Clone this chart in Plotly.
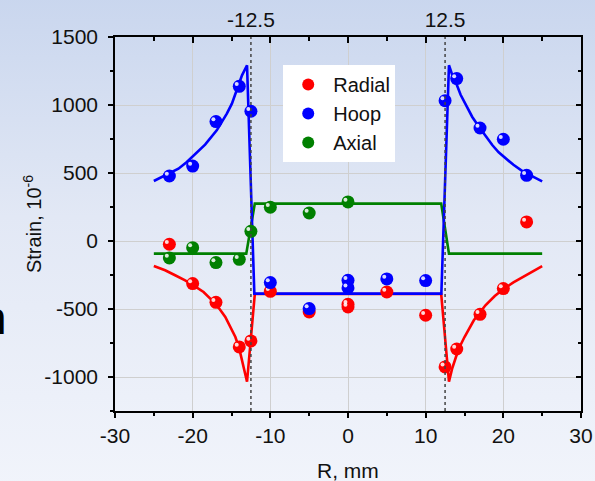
import base64
import plotly.graph_objects as go

# ---------------- data ----------------
radial_x = [-23, -20, -17, -14, -12.5, -10, -5, 0, 0, 5, 10, 12.5, 14, 17, 20, 23]
radial_y = [-24, -313, -451, -779, -735, -370, -522, -465, -485, -375, -546, -926, -794, -539, -350, 140]

hoop_x = [-23, -20, -17, -14, -12.5, -10, -5, 0, 0, 5, 10, 12.5, 14, 17, 20, 23]
hoop_y = [478, 551, 878, 1137, 954, -306, -497, -289, -345, -279, -291, 1032, 1194, 831, 748, 483]

axial_x = [-23, -20, -17, -14, -12.5, -10, -5, 0]
axial_y = [-125, -49, -159, -135, 71, 248, 206, 287]

# fitted curves
radial_fit_x = [-25.0, -23.55, -22.26, -20.97, -19.9, -18.6, -17.5, -16.58, -15.8, -15.12, -14.5,
                -14.0, -13.65, -13.3, -13.0, -12.0, 12.0, 13.0, 13.4, 13.9, 14.4, 15.0, 15.6,
                16.2, 17.0, 17.7, 18.9, 20.1, 21.3, 22.5, 23.8, 25.0]
radial_fit_y = [-184, -215, -252, -289, -326, -375, -436, -497, -559, -632, -706,
                -791, -877, -956, -1035, -390, -390, -1035, -940, -853, -775, -706, -640,
                -583, -525, -473, -405, -350, -305, -265, -222, -184]

hoop_fit_x = [-25.0, -23.55, -21.83, -20.75, -19.9, -18.4, -16.9, -15.6, -14.95, -14.5, -14.0,
              -13.65, -13.0, -12.06, 12.02, 13.0, 13.4, 13.87, 14.5, 15.16, 16.0, 16.88, 17.7,
              18.6, 19.4, 20.3, 21.3, 22.5, 23.7, 25.0]
hoop_fit_y = [441, 483, 532, 581, 625, 709, 814, 937, 1010, 1084, 1157,
              1218, 1292, -387, -387, 1292, 1225, 1169, 1075, 998, 912, 838, 770,
              704, 652, 606, 560, 512, 474, 439]

axial_fit_x = [-25.0, -13.1, -12.0, 12.0, 13.0, 25.0]
axial_fit_y = [-93, -93, 275, 275, -93, -93]

ref_lines = [-12.5, 12.5]
ref_labels = ["-12.5", "12.5"]

x_ticks = [-30, -20, -10, 0, 10, 20, 30]
x_ticklabels = ["-30", "-20", "-10", "0", "10", "20", "30"]
y_ticks = [-1000, -500, 0, 500, 1000, 1500]
y_ticklabels = ["-1000", "-500", "0", "500", "1000", "1500"]

x_title = "R, mm"
y_title = "Strain, 10<sup>-6</sup>"

series_names = ["Radial", "Hoop", "Axial"]
series_colors = ["#ff0000", "#0000ff", "#008000"]

# ---------------- figure ----------------
FONT = "Arial, Liberation Sans, sans-serif"
FS = 21
fig = go.Figure()

fits = [(radial_fit_x, radial_fit_y), (axial_fit_x, axial_fit_y), (hoop_fit_x, hoop_fit_y)]
fit_colors = [series_colors[0], series_colors[2], series_colors[1]]
for (fx, fy), c in zip(fits, fit_colors):
    fig.add_trace(go.Scatter(x=fx, y=fy, mode="lines", line=dict(color=c, width=2.6),
                             showlegend=False, hoverinfo="skip"))

pts = [(radial_x, radial_y), (hoop_x, hoop_y), (axial_x, axial_y)]
dx, dy = -0.33, 17  # highlight offset of the glossy spheres
for (px, py), name, c in zip(pts, series_names, series_colors):
    fig.add_trace(go.Scatter(x=px, y=py, mode="markers", name=name,
                             marker=dict(color=c, size=13, line=dict(width=0))))
    fig.add_trace(go.Scatter(x=[v + dx for v in px], y=[v + dy for v in py], mode="markers",
                             marker=dict(color="rgba(255,255,255,0.85)", size=4, line=dict(width=0)),
                             showlegend=False, hoverinfo="skip"))

# empty traces to bind the mirror axes
fig.add_trace(go.Scatter(x=[], y=[], xaxis="x2", showlegend=False))
fig.add_trace(go.Scatter(x=[], y=[], xaxis="x3", showlegend=False))
fig.add_trace(go.Scatter(x=[], y=[], yaxis="y2", showlegend=False))

for v in ref_lines:
    fig.add_shape(type="line", xref="x", yref="paper", x0=v, x1=v, y0=0, y1=1,
                  line=dict(color="#444444", width=1.5, dash="3px,3px"), layer="above")

svg = ("<svg xmlns='http://www.w3.org/2000/svg' width='10' height='100' preserveAspectRatio='none'>"
       "<defs><linearGradient id='g' x1='0' y1='0' x2='0' y2='1'>"
       "<stop offset='0' stop-color='#c9d6ee'/><stop offset='0.45' stop-color='#e2e8f5'/>"
       "<stop offset='1' stop-color='#f1f4fb'/></linearGradient></defs>"
       "<rect width='10' height='100' fill='url(#g)'/></svg>")
src = "data:image/svg+xml;base64," + base64.b64encode(svg.encode()).decode()
fig.add_layout_image(dict(source=src, xref="paper", yref="paper", x=-0.26, y=1.11,
                          sizex=1.31, sizey=1.31, sizing="stretch", xanchor="left",
                          yanchor="top", layer="below"))

fig.add_annotation(text="n", xref="paper", yref="paper", x=-0.2276, y=0.25,
                   xanchor="right", yanchor="middle", showarrow=False,
                   font=dict(family=FONT, size=46, color="black"))
fig.add_annotation(text=x_title, xref="paper", yref="paper", x=0.5, y=-0.158,
                   xanchor="center", yanchor="middle", showarrow=False,
                   font=dict(family=FONT, size=FS, color="#111111"))
fig.add_annotation(text=y_title, xref="paper", yref="paper", x=-0.178, y=0.5,
                   xanchor="center", yanchor="middle", showarrow=False, textangle=-90,
                   font=dict(family=FONT, size=FS - 1, color="#111111"))

xr = [-30, 30]
yr = [-1250, 1500]
tickfont = dict(family=FONT, size=FS, color="#111111")
fig.update_layout(
    width=595, height=481,
    margin=dict(l=115, r=14, t=37, b=70, autoexpand=False),
    paper_bgcolor="#eef2fa", plot_bgcolor="rgba(0,0,0,0)",
    font=dict(family=FONT, size=FS, color="#111111"),
    xaxis=dict(range=xr, tickvals=x_ticks, ticktext=x_ticklabels, ticks="outside",
               ticklen=5, tickwidth=1.5, tickcolor="black", showline=True, linecolor="black",
               linewidth=1.5, showgrid=True, gridcolor="#cfcfcf", gridwidth=1, zeroline=False,
               tickfont=tickfont, automargin=False,
               minor=dict(ticks="outside", dtick=5, tick0=0, ticklen=3, tickcolor="black",
                          tickwidth=1.5, showgrid=False)),
    yaxis=dict(range=yr, tickvals=y_ticks, ticktext=y_ticklabels, ticks="outside",
               ticklen=5, tickwidth=1.5, tickcolor="black", showline=True, linecolor="black",
               linewidth=1.5, showgrid=True, gridcolor="#cfcfcf", gridwidth=1, zeroline=False,
               tickfont=tickfont, ticklabelstandoff=6, automargin=False,
               minor=dict(ticks="outside", dtick=250, tick0=0, ticklen=3, tickcolor="black",
                          tickwidth=1.5, showgrid=False)),
    xaxis2=dict(range=xr, overlaying="x", side="top", anchor="y", tickvals=ref_lines,
                ticktext=ref_labels, ticks="", showline=False, showgrid=False, zeroline=False,
                tickfont=tickfont, ticklabelstandoff=5, automargin=False),
    xaxis3=dict(range=xr, overlaying="x", side="top", anchor="y", tickvals=x_ticks,
                ticks="inside", ticklen=6, tickwidth=1.5, tickcolor="black", showticklabels=False,
                showline=True, linecolor="black", linewidth=1.5, showgrid=False, zeroline=False,
                automargin=False,
                minor=dict(ticks="inside", dtick=5, tick0=0, ticklen=4, tickcolor="black",
                           tickwidth=1.5, showgrid=False)),
    yaxis2=dict(range=yr, overlaying="y", side="right", anchor="x", tickvals=y_ticks,
                ticks="inside", ticklen=5, tickwidth=1.5, tickcolor="black", showticklabels=False,
                showline=True, linecolor="black", linewidth=1.5, showgrid=False, zeroline=False,
                automargin=False,
                minor=dict(ticks="inside", dtick=250, tick0=0, ticklen=3, tickcolor="black",
                           tickwidth=1.5, showgrid=False)),
    legend=dict(x=0.361, y=0.925, xanchor="left", yanchor="top", bgcolor="white",
                borderwidth=0, font=dict(family=FONT, size=FS - 1, color="#111111"),
                itemsizing="constant", itemwidth=40),
    showlegend=True,
)

fig.write_html("out.html")
